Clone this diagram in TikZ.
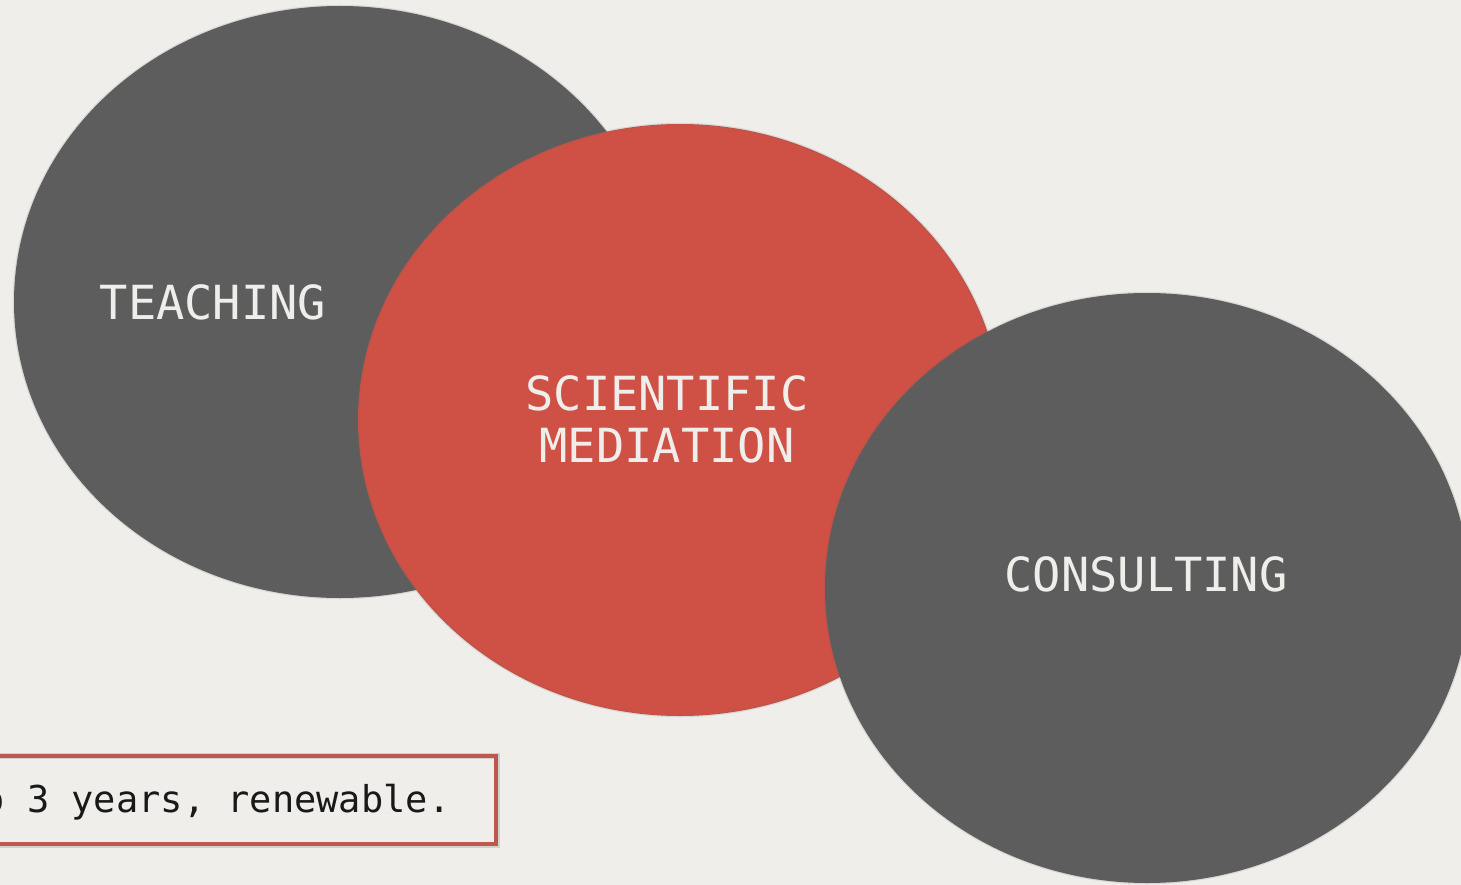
\documentclass[tikz,border=0pt]{standalone}
\usepackage{fontspec}
\newfontfamily\mono{DejaVu Sans Mono}
\definecolor{bg}{HTML}{EFEEEA}
\definecolor{darkgray}{HTML}{5D5D5D}
\definecolor{redfill}{HTML}{CF5044}
\definecolor{boxred}{HTML}{C0574E}
\definecolor{txt}{HTML}{EFEEEA}
\tikzset{
  blob/.style={draw=black!60, draw opacity=0.15, line width=2.5pt},
  bigtext/.style={text=txt, font=\mono\fontsize{47}{52}\selectfont, align=center, inner sep=0pt},
  notetext/.style={text=black!90, font=\mono\fontsize{37}{40}\selectfont, inner sep=0pt, anchor=base west},
}
\begin{document}
\begin{tikzpicture}[x=1pt,y=-1pt]
\useasboundingbox (0,0) rectangle (1461,885);
\clip (0,0) rectangle (1461,885);
\fill[bg] (0,0) rectangle (1461,885);
% left gray
\filldraw[blob, fill=darkgray] (340,302) ellipse [x radius=326, y radius=296];
% red
\filldraw[blob, fill=redfill] (680,420) ellipse [x radius=322, y radius=296];
% right gray
\filldraw[blob, fill=darkgray] (1147,588) ellipse [x radius=322, y radius=295];
\node[bigtext] (teach) at (213,302) {TEACHING};
\node[bigtext] (sci) at (667,419) {SCIENTIFIC\\MEDIATION};
\node[bigtext] (cons) at (1146,574) {CONSULTING};
% note box
\draw[draw=black, draw opacity=0.12, line width=6pt] (-30,756) rectangle (497,845);
\draw[boxred, line width=4pt] (-30,756) rectangle (496,844);
\node[notetext] (note) at (-17.6,812) {o 3 years, renewable.};
\end{tikzpicture}
\end{document}
